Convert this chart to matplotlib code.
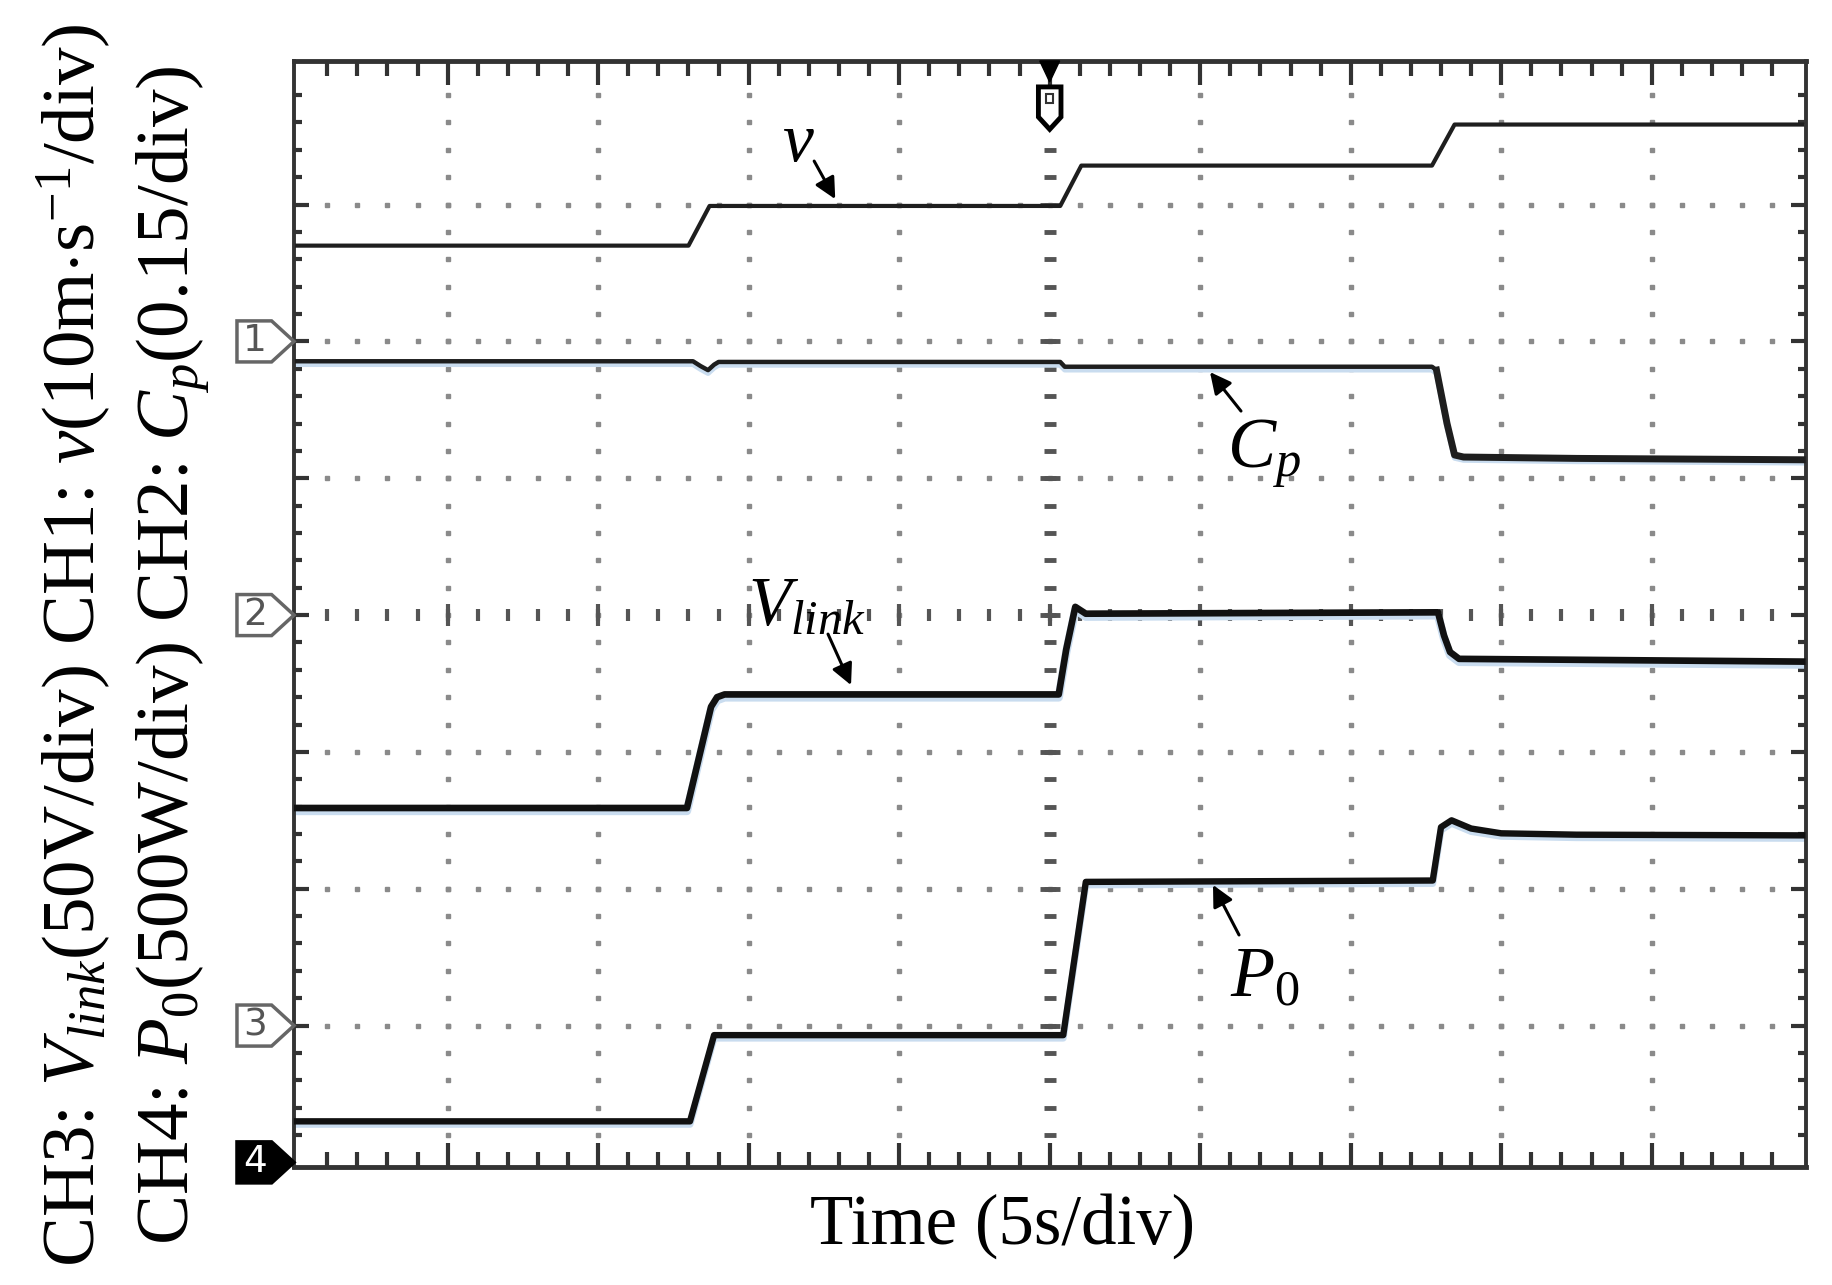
import matplotlib
matplotlib.use('Agg')
import matplotlib.pyplot as plt
import matplotlib.transforms as mtransforms
from matplotlib.patches import Polygon
import numpy as np

plt.rcParams['font.family'] = ['Liberation Serif', 'DejaVu Serif']
plt.rcParams['mathtext.fontset'] = 'custom'
plt.rcParams['mathtext.rm'] = 'Liberation Serif'
plt.rcParams['mathtext.it'] = 'Liberation Serif:italic'

# x in screen divisions (5 s/div), y in screen divisions from the bottom
v_t = [0.0, 2.60, 2.74, 5.07, 5.21, 7.54, 7.69, 10.0]
v_y = [6.70, 6.70, 6.99, 6.99, 7.285, 7.285, 7.585, 7.585]

cp_t = [0.0, 2.63, 2.68, 2.73, 2.77, 2.80, 5.07, 5.10, 7.54, 7.57, 7.64, 7.69, 7.75, 8.5, 10.0]
cp_y = [5.855, 5.855, 5.82, 5.79, 5.83, 5.85, 5.85, 5.815, 5.815, 5.79, 5.40, 5.17, 5.155, 5.145, 5.135]

vl_t = [0.0, 2.59, 2.75, 2.79, 2.84, 5.06, 5.11, 5.17, 5.24, 7.58, 7.62, 7.66, 7.72, 10.0]
vl_y = [2.59, 2.59, 3.33, 3.40, 3.42, 3.42, 3.75, 4.06, 4.01, 4.02, 3.85, 3.73, 3.68, 3.66]

p_t = [0.0, 2.61, 2.77, 5.09, 5.24, 7.545, 7.60, 7.67, 7.80, 8.00, 8.5, 10.0]
p_y = [0.30, 0.30, 0.93, 0.93, 2.05, 2.06, 2.45, 2.50, 2.44, 2.405, 2.395, 2.39]

ch_labels = ['1', '2', '3', '4']
ch_levels = [6, 4, 1, 0]

fig = plt.figure(figsize=(18.33, 12.85), dpi=100)
ax = fig.add_axes([0.1604, 0.0918, 0.8247, 0.8609])
ax.set_xlim(-0.021, 10.023)
ax.set_ylim(-0.034, 8.051)

# graticule dots
ys = np.arange(1, 40) * 0.2
xs = np.arange(1, 50) * 0.2
for gx in range(1, 10):
    if gx != 5:
        ax.plot(np.full(len(ys), gx), ys, ls='none', marker='s', ms=2.2,
                color='#8a8a8a', zorder=1)
for gy in range(1, 8):
    if gy != 4:
        ax.plot(xs, np.full(len(xs), gy), ls='none', marker='s', ms=2.2,
                color='#8a8a8a', zorder=1)
# centre cross
ax.plot(np.full(len(ys), 5), ys, ls='none', marker='_', ms=9, mew=3.5,
        color='#555555', zorder=1)
ax.plot(np.full(7, 5), np.arange(1, 8), ls='none', marker='_', ms=14, mew=3.5,
        color='#555555', zorder=1)
ax.plot(xs, np.full(len(xs), 4), ls='none', marker='|', ms=9, mew=3,
        color='#555555', zorder=1)
ax.plot(np.arange(1, 10), np.full(9, 4), ls='none', marker='|', ms=16, mew=3,
        color='#555555', zorder=1)

ax.set_xticks(range(1, 10))
ax.set_xticks([x for x in xs if abs(x - round(x)) > 0.01], minor=True)
ax.set_yticks(range(1, 8))
ax.set_yticks([y for y in ys if abs(y - round(y)) > 0.01], minor=True)
ax.tick_params(which='both', direction='in', color='#333333', width=3,
               top=True, bottom=True, left=True, right=True,
               labelbottom=False, labelleft=False)
ax.tick_params(axis='x', which='major', length=17)
ax.tick_params(axis='x', which='minor', length=11)
ax.tick_params(axis='y', which='major', length=11)
ax.tick_params(axis='y', which='minor', length=6)
for side, sp in ax.spines.items():
    sp.set_color('#333333')
    sp.set_linewidth(3.5 if side in ('top', 'bottom') else 2.8)

# traces with a faint blue halo below
halo = mtransforms.offset_copy(ax.transData, fig=fig, x=0, y=-3, units='dots')
for t, y, w in [(cp_t, cp_y, 4), (vl_t, vl_y, 6), (p_t, p_y, 5)]:
    ax.plot(t, y, color='#c9dcef', lw=w, transform=halo, zorder=2,
            solid_joinstyle='round')
ax.plot(v_t, v_y, color='#1e1e1e', lw=3.0, zorder=3, solid_joinstyle='round')
ax.plot(cp_t, cp_y, color='#1e1e1e', lw=3.2, zorder=3, solid_joinstyle='round')
ax.plot(cp_t[9:], cp_y[9:], color='#1e1e1e', lw=5.0, zorder=3, solid_joinstyle='round')
ax.plot(vl_t, vl_y, color='#111111', lw=4.8, zorder=3, solid_joinstyle='round')
ax.plot(p_t, p_y, color='#111111', lw=4.6, zorder=3, solid_joinstyle='round')

# channel markers on the left border
for lab, lev in zip(ch_labels, ch_levels):
    pts = [(-0.40, lev - 0.15), (-0.17, lev - 0.15), (-0.021, lev),
           (-0.17, lev + 0.15), (-0.40, lev + 0.15)]
    if lab == '4':
        fc, ec, tc = 'black', 'black', 'white'
    else:
        fc, ec, tc = 'white', '#666666', '#555555'
    ax.add_patch(Polygon(pts, closed=True, fc=fc, ec=ec, lw=2.5,
                         clip_on=False, zorder=5))
    ax.text(-0.28, lev, lab, ha='center', va='center', fontsize=27,
            family='DejaVu Sans', color=tc, clip_on=False, zorder=6)

# trigger marker at the top
ax.add_patch(Polygon([(4.934, 8.05), (5.066, 8.05), (5.0, 7.896)], closed=True,
                     fc='black', ec='black', lw=1, clip_on=False, zorder=5))
ax.add_patch(Polygon([(4.925, 7.86), (5.075, 7.86), (5.075, 7.64), (5.0, 7.55),
                      (4.925, 7.64)], closed=True, fc='white', ec='black',
                     lw=3.5, clip_on=False, zorder=5))
ax.add_patch(Polygon([(4.975, 7.81), (5.025, 7.81), (5.025, 7.74), (4.975, 7.74)],
                     closed=True, fc='white', ec='#333333', lw=1.5,
                     clip_on=False, zorder=6))

# trace labels and arrows
arrow = dict(arrowstyle='-|>', lw=2.2, color='black', mutation_scale=32,
             shrinkA=0, shrinkB=0)
ax.text(3.33, 7.32, '$v$', fontsize=50, ha='center', va='baseline', zorder=6)
ax.annotate('', xy=(3.575, 7.04), xytext=(3.435, 7.318), arrowprops=arrow, zorder=6)
ax.text(6.178, 5.075, '$C_p$', fontsize=52, ha='left', va='baseline', zorder=6)
ax.annotate('', xy=(6.065, 5.776), xytext=(6.271, 5.491), arrowprops=arrow, zorder=6)
ax.text(2.995, 3.928, '$V_{link}$', fontsize=50, ha='left', va='baseline', zorder=6)
ax.annotate('', xy=(3.68, 3.488), xytext=(3.527, 3.861), arrowprops=arrow, zorder=6)
ax.text(6.198, 1.209, r'$P_{\mathrm{0}}$', fontsize=52, ha='left', va='baseline', zorder=6)
ax.annotate('', xy=(6.085, 2.028), xytext=(6.258, 1.662), arrowprops=arrow, zorder=6)

# axis captions
W, H = 1833.0, 1285.0
fig.text(1003 / W, 1 - 1244 / H, 'Time (5s/div)', ha='center', va='baseline',
         fontsize=51)
line1 = r'CH3: $V_{link}$(50V/div) CH1: $v$(10m$\cdot$s$^{\mathrm{-1}}$/div)'
line2 = r'CH4: $P_{\mathrm{0}}$(500W/div) CH2: $C_p$(0.15/div)'
fig.text(95 / W, 1 - 645 / H, line1, rotation=90, rotation_mode='anchor',
         ha='center', va='baseline', fontsize=54)
fig.text(188 / W, 1 - 655 / H, line2, rotation=90, rotation_mode='anchor',
         ha='center', va='baseline', fontsize=54)

fig.savefig('out.png', dpi=100)
